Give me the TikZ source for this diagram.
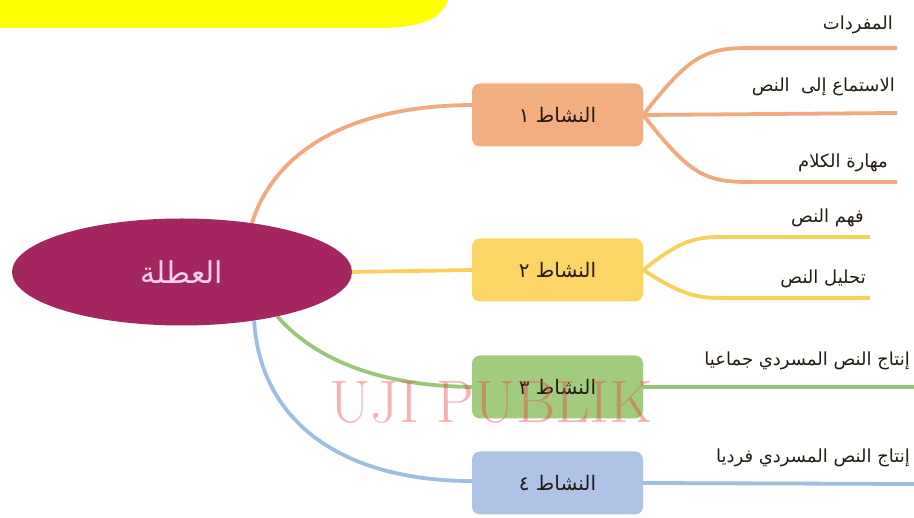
\documentclass[tikz,border=0pt]{standalone}
\usepackage{fontspec}
\TeXXeTstate=1
\newfontfamily\arabicfont[Script=Arabic]{DejaVu Sans}
\usetikzlibrary{shapes.geometric,backgrounds}

\definecolor{hubfill}{HTML}{A42660}
\definecolor{hubtext}{HTML}{F6D3E2}
\definecolor{orangefill}{HTML}{F2AD80}
\definecolor{orangeline}{HTML}{EFAA7F}
\definecolor{yellowfill}{HTML}{FBD565}
\definecolor{yellowline}{HTML}{F8D15C}
\definecolor{greenfill}{HTML}{A1CC7F}
\definecolor{greenline}{HTML}{9CC67A}
\definecolor{bluefill}{HTML}{AEC3E6}
\definecolor{blueline}{HTML}{9EBEE3}
\definecolor{bannerfill}{HTML}{FFFF00}
\definecolor{inktext}{HTML}{241C12}
\definecolor{stampred}{HTML}{E84848}

\tikzset{
  hub/.style={ellipse, fill=hubfill, minimum width=340pt, minimum height=107pt,
    inner sep=0pt, text=hubtext, font=\arabicfont\fontsize{30}{34}\selectfont},
  actbox/.style={rectangle, rounded corners=8pt, minimum width=171pt,
    minimum height=63pt, inner sep=0pt, text=inktext,
    font=\arabicfont\fontsize{20}{24}\selectfont},
  leaf/.style={anchor=east, inner sep=0pt, text=inktext,
    font=\arabicfont\fontsize{18}{22}\selectfont},
  link/.style={line width=3.8pt},
}

\begin{document}
\begin{tikzpicture}[x=1pt,y=-1pt]
\useasboundingbox (0,0) rectangle (914,518);

% banner strip at the top left
\fill[bannerfill] (0,0) -- (448,0) .. controls (440,22) and (415,28) .. (375,28) -- (0,28) -- cycle;

% central topic and the four activities
\node[hub] (hub) at (182,272) {\beginR العطلة\endR};
\node[actbox, fill=orangefill] (n1) at (557.5,115) {\beginR النشاط ١\endR};
\node[actbox, fill=yellowfill] (n2) at (557.5,270) {\beginR النشاط ٢\endR};
\node[actbox, fill=greenfill]  (n3) at (557.5,387) {\beginR النشاط ٣\endR};
\node[actbox, fill=bluefill]   (n4) at (557.5,483) {\beginR النشاط ٤\endR};

% free ends of the sub-branches
\coordinate (e1a) at (897,48);
\coordinate (e1b) at (897,113);
\coordinate (e1c) at (897,182);
\coordinate (e2a) at (870,237);
\coordinate (e2b) at (870,298);
\coordinate (e3)  at (914,387);
\coordinate (e4)  at (914,484);

% sub-branch labels
\node[leaf] (t1a) at (893,25)  {\beginR المفردات\endR};
\node[leaf] (t1b) at (895,87)  {\beginR الاستماع إلى\ \ النص\endR};
\node[leaf] (t1c) at (888,163) {\beginR مهارة الكلام\endR};
\node[leaf] (t2a) at (864,218) {\beginR فهم النص\endR};
\node[leaf] (t2b) at (866,279) {\beginR تحليل النص\endR};
\node[leaf] (t3)  at (910,361) {\beginR إنتاج النص المسردي جماعيا\endR};
\node[leaf] (t4)  at (910,458) {\beginR إنتاج النص المسردي فرديا\endR};

\begin{scope}[on background layer]
  % links from the centre to each activity
  \draw[link, orangeline] (hub.35) .. controls (270,165) and (330,106) .. ([yshift=10pt]n1.west);
  \draw[link, yellowline] (hub.east) -- (n2.west);
  \draw[link, greenline]  (hub.-25) .. controls (320,365) and (390,386) .. (n3.west);
  \draw[link, blueline]   (hub.-34) .. controls (260,420) and (340,481) .. ([yshift=2pt]n4.west);

  % activity 1 fan
  \draw[link, orangeline] (n1.east) .. controls (690,55) and (705,48) .. (750,48) -- (e1a);
  \draw[link, orangeline] (n1.east) -- (e1b);
  \draw[link, orangeline] (n1.east) .. controls (690,175) and (705,182) .. (750,182) -- (e1c);

  % activity 2 fan
  \draw[link, yellowline] (n2.east) .. controls (675,245) and (690,237) .. (720,237) -- (e2a);
  \draw[link, yellowline] (n2.east) .. controls (675,290) and (690,298) .. (720,298) -- (e2b);

  % activities 3 and 4
  \draw[link, greenline] (n3.east) -- (e3);
  \draw[link, blueline]  (n4.east) -- (e4);
\end{scope}

% stamp across the lower middle
\node[text=stampred, opacity=0.42, font=\fontsize{60}{66}\selectfont, inner sep=0pt]
  (stamp) at (491,402) {UJI PUBLIK};
\end{tikzpicture}
\end{document}
